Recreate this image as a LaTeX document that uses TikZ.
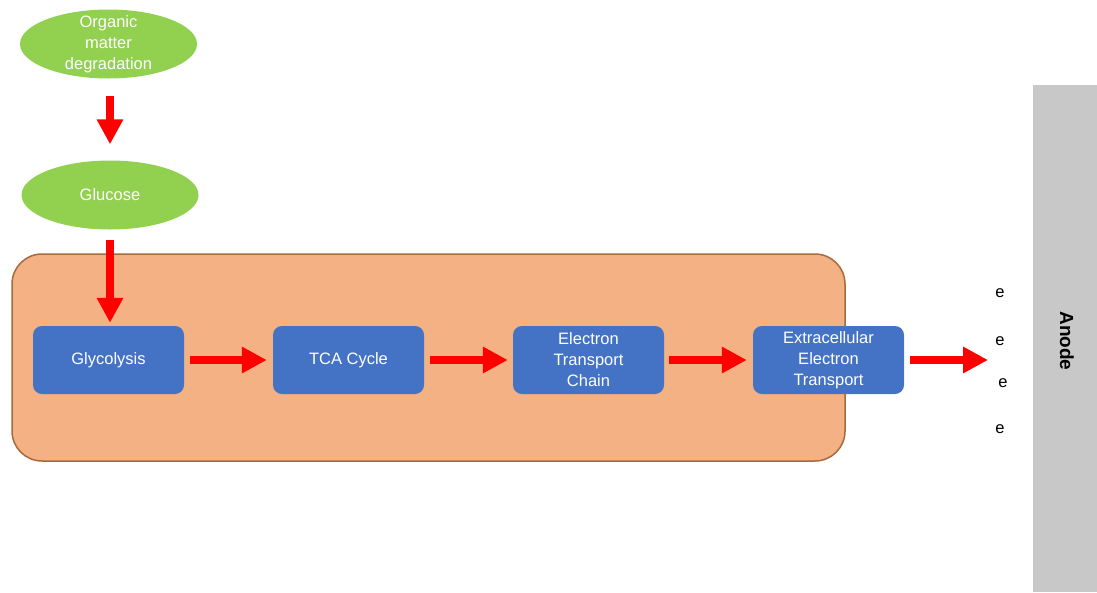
\documentclass[tikz,border=0pt]{standalone}
\usepackage{fontspec}
\setmainfont{Liberation Sans}
\usepackage{xcolor}
\usetikzlibrary{arrows.meta, positioning, shapes.geometric}

\definecolor{leafgreen}{HTML}{92D050}
\definecolor{cellfill}{HTML}{F4B183}
\definecolor{cellborder}{HTML}{A86A3C}
\definecolor{stepblue}{HTML}{4472C4}
\definecolor{anodegray}{HTML}{C8C8C8}

\tikzset{
    source/.style={ellipse, fill=leafgreen, minimum width=177pt, minimum height=69pt,
        inner sep=0pt, text=white, align=center, font=\fontsize{16.5}{21}\selectfont},
    stage/.style={rectangle, rounded corners=9pt, fill=stepblue, minimum width=151pt,
        minimum height=68pt, inner sep=0pt, text=white, align=center,
        font=\fontsize{16.5}{21}\selectfont},
    flow/.style={draw=red, line width=8pt, -{Triangle[width=25pt, length=25pt]}, red},
    electron/.style={font=\fontsize{16.5}{20}\selectfont}
}

\begin{document}
\begin{tikzpicture}[x=1pt, y=-1pt, node distance=240pt, on grid]
        \useasboundingbox (0,0) rectangle (1097,592);

        % cell body and anode
        \draw[cellborder, fill=cellfill, line width=1.5pt, rounded corners=30pt]
            (12,254) rectangle (845,461);
        \fill[anodegray] (1033,85) rectangle (1097,592);
        \node[rotate=-90, font=\bfseries\fontsize{19}{22}\selectfont] (anode) at (1067,341) {Anode};

        \node[source, inner sep=-7pt] (organic) at (108.5,44) {Organic\\matter\\degradation};
        \node[source] (glucose) at (110,195) {Glucose};

        \node[stage] (glyco) at (108.5,360) {Glycolysis};
        \node[stage] (tca) [right=of glyco] {TCA Cycle};
        \node[stage] (etc) [right=of tca] {Electron\\Transport\\Chain};
        \node[stage] (eet) [right=of etc] {Extracellular\\Electron\\Transport};

        \coordinate (out) at (988,360);

        \node[electron] (e1) at (1000,293) {e};
        \node[electron] (e2) at (1000,341) {e};
        \node[electron] (e3) at (1003,383) {e};
        \node[electron] (e4) at (1000,429) {e};

        \draw[flow, shorten <=17pt, shorten >=16pt] (organic.south -| glucose.north) -- (glucose.north);
        \draw[flow, shorten <=10pt, shorten >=3pt] (glucose.south) -- (glucose.south |- glyco.north);
        \draw[flow, shorten <=6pt, shorten >=6pt] (glyco) -- (tca);
        \draw[flow, shorten <=6pt, shorten >=5pt] (tca) -- (etc);
        \draw[flow, shorten <=5pt, shorten >=6pt] (etc) -- (eet);
        \draw[flow, shorten <=6pt] (eet) -- (out);
    \end{tikzpicture}
\end{document}
